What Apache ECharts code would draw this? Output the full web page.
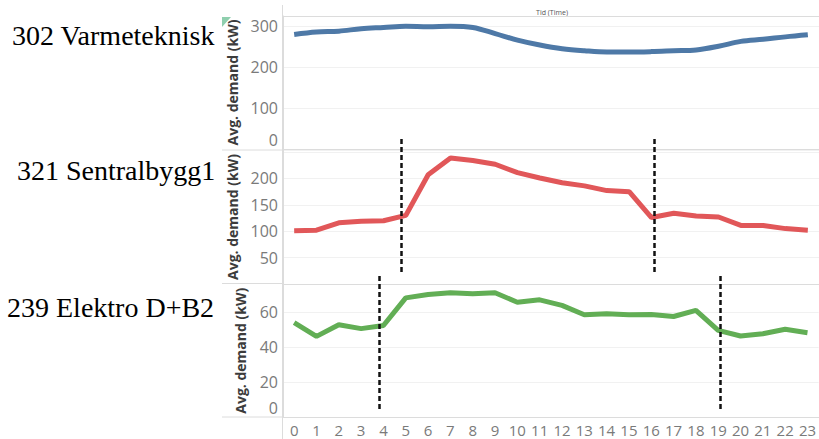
<!DOCTYPE html>
<html>
<head>
<meta charset="utf-8">
<script src="https://cdn.jsdelivr.net/npm/echarts@6/dist/echarts.min.js"></script>
<style>
html,body{margin:0;padding:0;background:#fff;}
#chart{width:819px;height:439px;}
</style>
</head>
<body>
<div id="chart"></div>
<script>
// ---- data ----
const hours = ['0','1','2','3','4','5','6','7','8','9','10','11','12','13','14','15','16','17','18','19','20','21','22','23'];
const panelNames = ['302 Varmeteknisk', '321 Sentralbygg1', '239 Elektro D+B2'];
const varmeteknisk = [280, 286, 288, 294, 297, 300, 299, 300, 297, 282, 266, 254, 245, 240, 237, 237, 238, 240, 242, 251, 263, 268, 274, 279];
const sentralbygg = [101, 102, 116, 119, 120, 130, 207, 239, 234, 227, 211, 201, 192, 186, 177, 175, 126, 134, 129, 127, 111, 111, 105, 102];
const elektro = [54, 46.2, 52.8, 50.6, 52.4, 68.1, 70, 71, 70.4, 71, 65.6, 67, 63.8, 58.5, 59, 58.5, 58.7, 57.5, 61, 49.6, 46.4, 47.7, 50.2, 48.3];
const yTitle = 'Avg. demand (kW)';
const xTitle = 'Tid (Time)';
// dashed divider lines: hour positions
const dividers2 = [4.81, 16.14];
const dividers3 = [3.83, 19.1];
// y axis ranges and highest labelled tick
const yMax = [325, 254, 76];
const yStep = [100, 50, 20];
const yTopLabel = [300, 200, 60];

const colors = ['#4e79a7', '#e15759', '#62ae55'];
const grids = [
  {left: 283, right: -3, top: 16, height: 133},
  {left: 283, right: -3, top: 150, height: 134},
  {left: 283, right: -3, top: 284, height: 133.5},
  // overlay areas for the dashed divider lines
  {left: 283, right: -3, top: 139, height: 133},
  {left: 283, right: -3, top: 276, height: 133}
];

const chart = echarts.init(document.getElementById('chart'), null, {renderer: 'svg'});

const xAxes = [];
const yAxes = [];
[0, 1, 2].forEach(i => {
  xAxes.push({
    type: 'category', gridIndex: i, data: hours, boundaryGap: true,
    axisTick: {show: false},
    axisLine: {show: true, lineStyle: {color: '#dcdcdc', width: 1}},
    axisLabel: {show: i === 2, fontSize: 15, color: '#7a7a7a', fontFamily: 'Open Sans', margin: 5, interval: 0},
    splitLine: {show: false}
  });
  yAxes.push({
    type: 'value', gridIndex: i, min: 0, max: yMax[i], interval: yStep[i],
    name: yTitle, nameLocation: 'middle', nameRotate: 90, nameGap: 36,
    nameTextStyle: {fontSize: 14, fontWeight: 'bold', color: '#3c3c3c', fontFamily: 'Open Sans'},
    axisLine: {show: true, lineStyle: {color: '#dcdcdc'}},
    axisTick: {show: false},
    axisLabel: {
      fontSize: 16, color: '#7a7a7a', fontFamily: 'Open Sans', margin: 5,
      showMaxLabel: false, showMinLabel: i !== 1,
      formatter: v => v > yTopLabel[i] ? '' : (v === 0 ? '{z|0}' : String(v)),
      rich: {z: {fontSize: 16, color: '#7a7a7a', fontFamily: 'Open Sans', padding: [0, 0, 19, 0]}}
    },
    splitLine: {show: true, lineStyle: {color: '#f1f1f1', width: 1}}
  });
});
// top border of first panel (index 3)
xAxes.push({
  type: 'category', gridIndex: 0, data: hours, position: 'top',
  axisTick: {show: false}, axisLabel: {show: false},
  axisLine: {show: true, lineStyle: {color: '#dcdcdc'}}
});
// hidden axes for divider overlays (x index 4, 5; y index 3, 4)
[3, 4].forEach(g => {
  xAxes.push({type: 'value', gridIndex: g, min: -0.5, max: 23.5, show: false});
  yAxes.push({type: 'value', gridIndex: g, min: 0, max: 1, show: false});
});

function divLines(xs) {
  return xs.map(x => [{coord: [x, 0]}, {coord: [x, 1]}]);
}
const dashStyle = {color: '#111', width: 2.5, type: [5, 3]};

const series = [
  {type: 'line', xAxisIndex: 0, yAxisIndex: 0, data: varmeteknisk, smooth: 0.35, symbol: 'none',
   lineStyle: {color: colors[0], width: 5}, z: 3},
  {type: 'line', xAxisIndex: 1, yAxisIndex: 1, data: sentralbygg, symbol: 'none',
   lineStyle: {color: colors[1], width: 5}, z: 3},
  {type: 'line', xAxisIndex: 2, yAxisIndex: 2, data: elektro, symbol: 'none',
   lineStyle: {color: colors[2], width: 5}, z: 3},
  {type: 'line', xAxisIndex: 4, yAxisIndex: 3, data: [], z: 5, silent: true,
   markLine: {silent: true, symbol: ['none', 'none'], label: {show: false}, lineStyle: dashStyle,
     data: divLines(dividers2)}},
  {type: 'line', xAxisIndex: 5, yAxisIndex: 4, data: [], z: 5, silent: true,
   markLine: {silent: true, symbol: ['none', 'none'], label: {show: false}, lineStyle: dashStyle,
     data: divLines(dividers3)}}
];

const labelY = [35, 170, 307];
const labelX = [12, 17, 7];
const graphics = panelNames.map((t, i) => ({
  type: 'text', x: labelX[i], y: labelY[i],
  style: {text: t, font: '28px "Liberation Serif"', fill: '#000', verticalAlign: 'middle'}
}));
graphics.push({
  type: 'text', x: 552, y: 12,
  style: {text: xTitle, font: '7px "Open Sans"', fill: '#555', align: 'center', verticalAlign: 'middle'}
});
// panel separators extending left and vertical frame
graphics.push(
  {type: 'line', shape: {x1: 222, y1: 150, x2: 283, y2: 150}, style: {stroke: '#dcdcdc', lineWidth: 1}},
  {type: 'line', shape: {x1: 222, y1: 283.5, x2: 283, y2: 283.5}, style: {stroke: '#dcdcdc', lineWidth: 1}},
  {type: 'line', shape: {x1: 222, y1: 417, x2: 283, y2: 417}, style: {stroke: '#dcdcdc', lineWidth: 1}},
  {type: 'line', shape: {x1: 282.5, y1: 5, x2: 282.5, y2: 439}, style: {stroke: '#dcdcdc', lineWidth: 1}},
  {type: 'polygon', shape: {points: [[222, 17], [231, 17], [222, 27]]}, style: {fill: '#8fcfae'}}
);

chart.setOption({
  animation: false,
  backgroundColor: '#fff',
  grid: grids,
  xAxis: xAxes,
  yAxis: yAxes,
  series: series,
  graphic: graphics
});
</script>
</body>
</html>
